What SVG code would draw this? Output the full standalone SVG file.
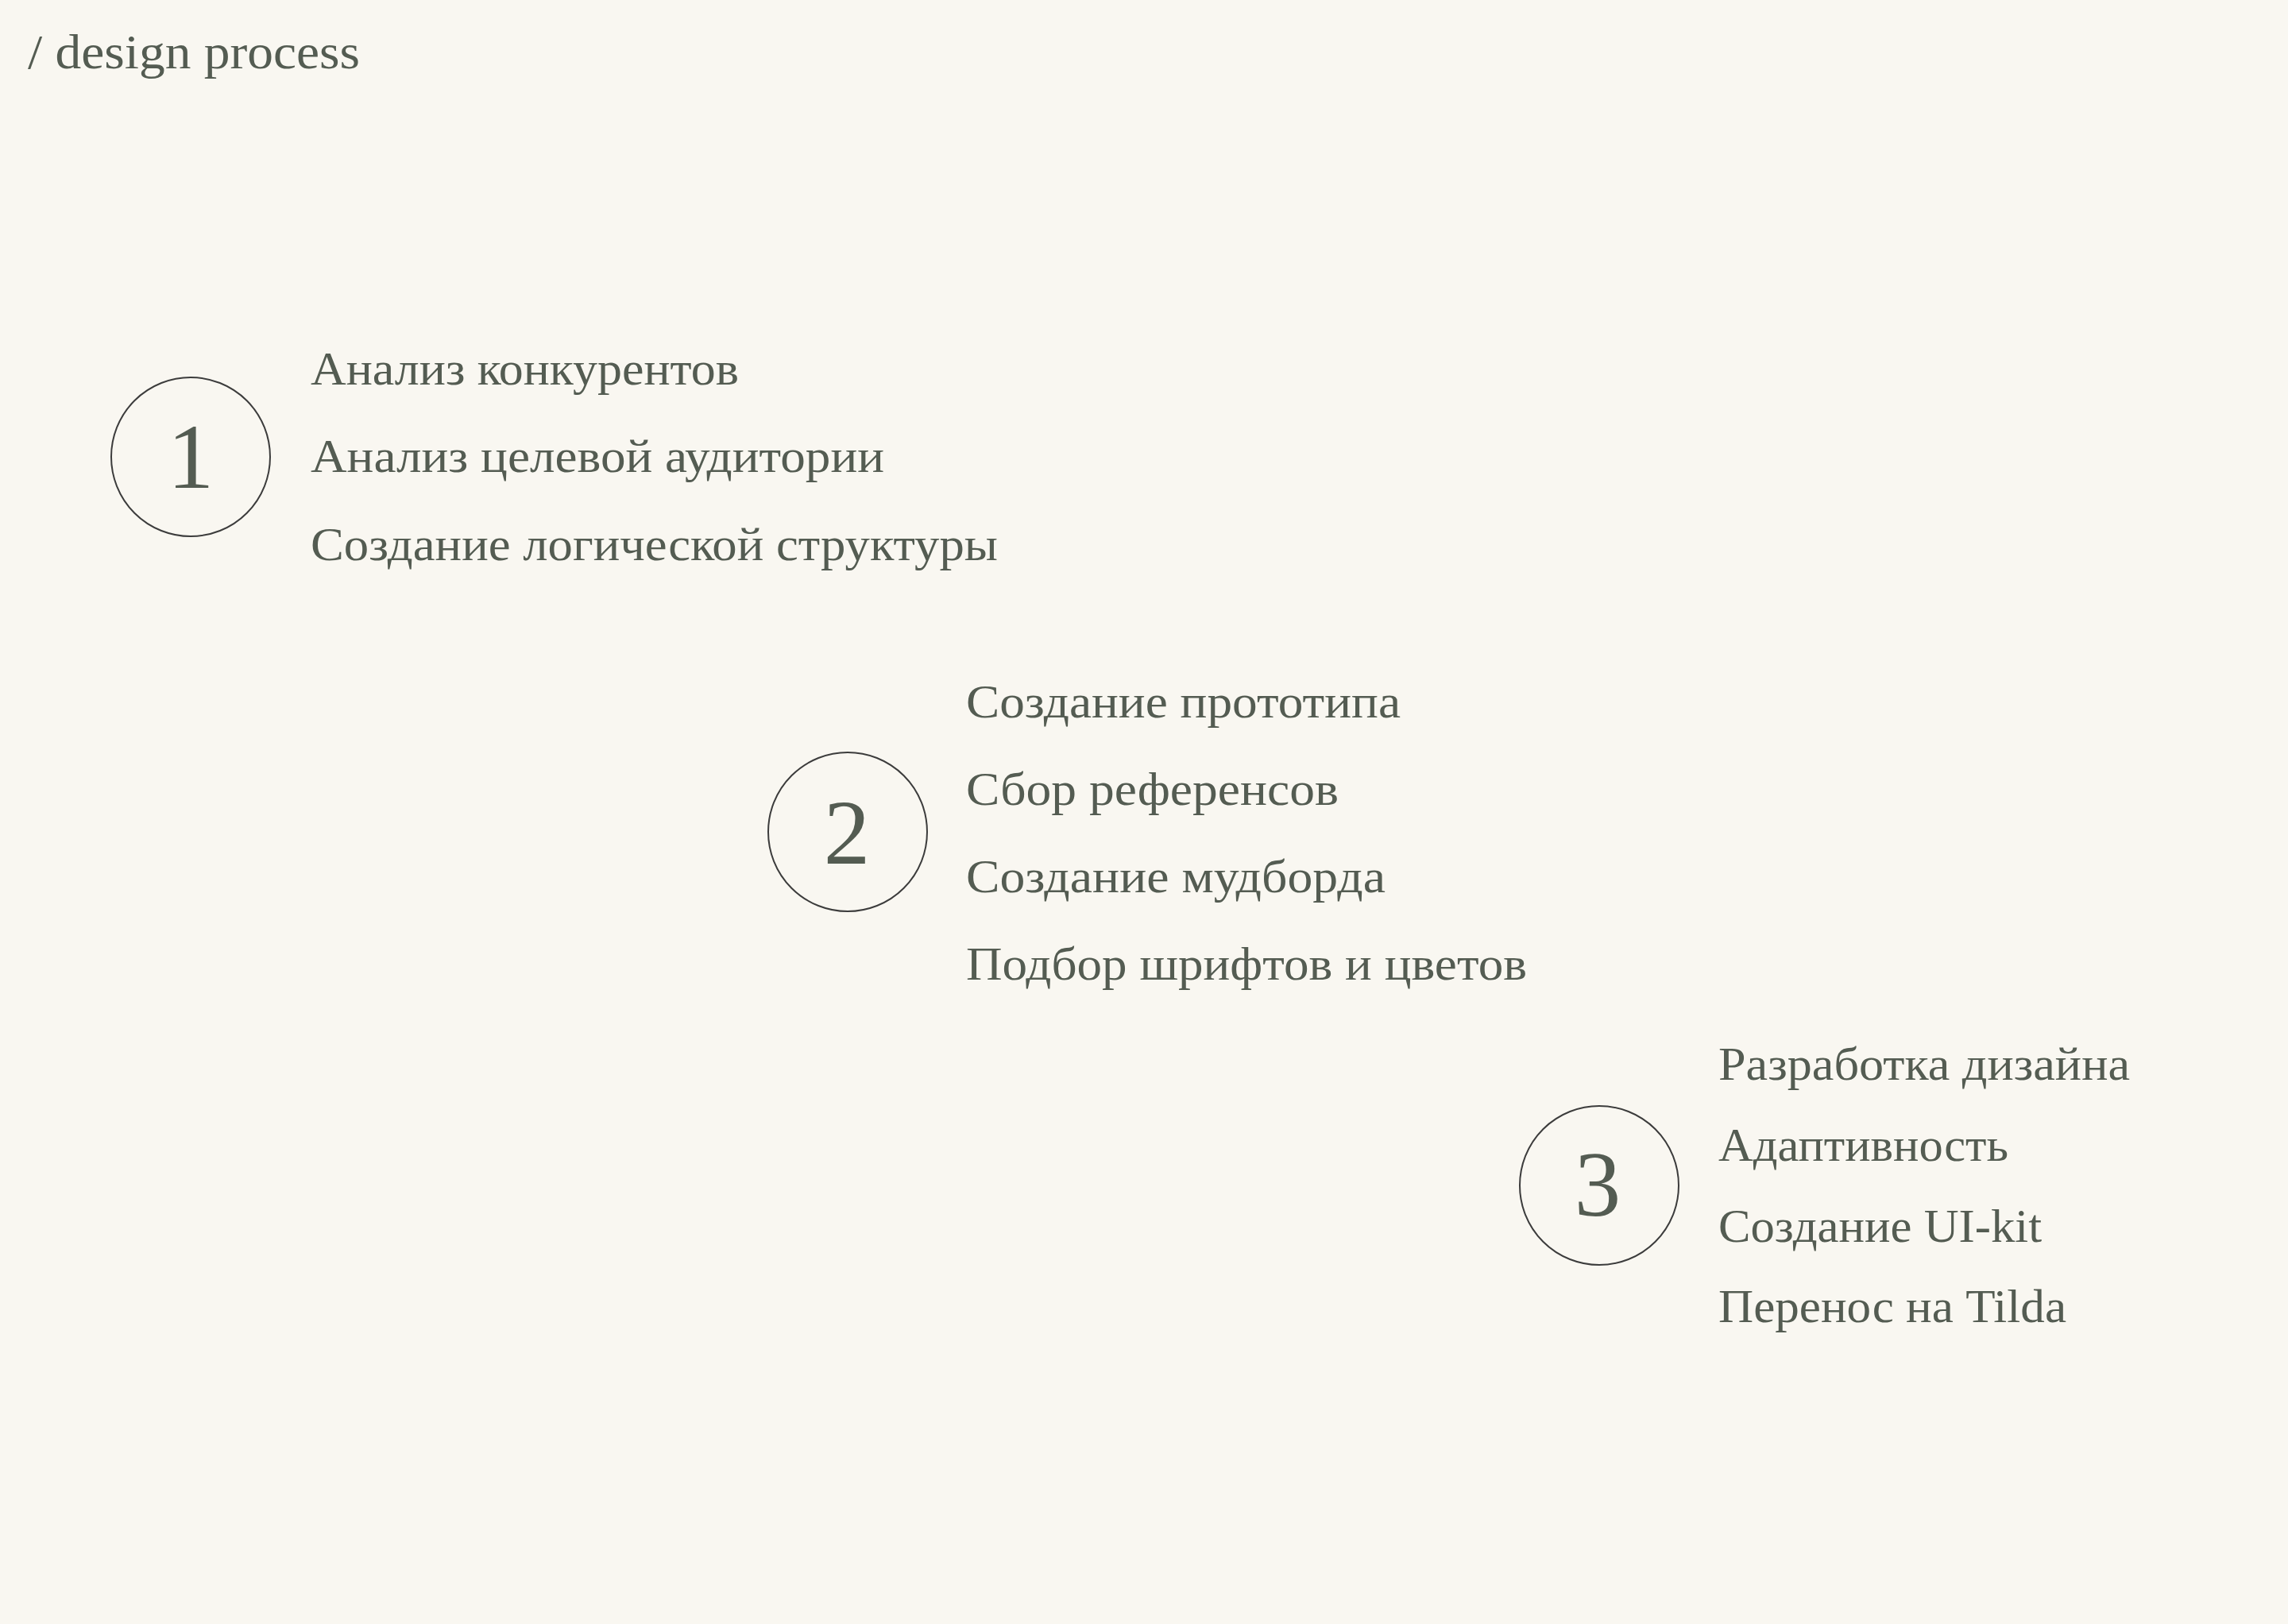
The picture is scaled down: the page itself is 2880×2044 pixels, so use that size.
<svg xmlns="http://www.w3.org/2000/svg" width="2880" height="2044" viewBox="0 0 2880 2044">
<style>
.bg{fill:#f9f7f1}
.t{font-family:"Liberation Serif","DejaVu Serif",serif;fill:#545c52}
.item{font-size:60px}
.num{font-size:117px;text-anchor:middle}
.ring{fill:none;stroke:#3c3c3c;stroke-width:2}
.title{font-size:62px}
</style>
<rect class="bg" x="0" y="0" width="2880" height="2044"/>
<text class="t title" x="35" y="86" textLength="418" lengthAdjust="spacingAndGlyphs">/ design process</text>
<g id="connectors"></g>
<g id="step1">
<circle class="ring" cx="240" cy="575" r="100"/>
<text class="t num" x="240" y="614">1</text>
<text class="t item" x="391" y="484" textLength="539" lengthAdjust="spacingAndGlyphs">Анализ конкурентов</text>
<text class="t item" x="391" y="594" textLength="722" lengthAdjust="spacingAndGlyphs">Анализ целевой аудитории</text>
<text class="t item" x="391" y="705" textLength="865" lengthAdjust="spacingAndGlyphs">Создание логической структуры</text>
</g>
<g id="step2">
<circle class="ring" cx="1067" cy="1047" r="100"/>
<text class="t num" x="1066" y="1087">2</text>
<text class="t item" x="1216" y="903" textLength="547" lengthAdjust="spacingAndGlyphs">Создание прототипа</text>
<text class="t item" x="1216" y="1013" textLength="469" lengthAdjust="spacingAndGlyphs">Сбор референсов</text>
<text class="t item" x="1216" y="1123" textLength="528" lengthAdjust="spacingAndGlyphs">Создание мудборда</text>
<text class="t item" x="1216" y="1233" textLength="706" lengthAdjust="spacingAndGlyphs">Подбор шрифтов и цветов</text>
</g>
<g id="step3">
<circle class="ring" cx="2013" cy="1492" r="100"/>
<text class="t num" x="2011" y="1530">3</text>
<text class="t item" x="2163" y="1359" textLength="518" lengthAdjust="spacingAndGlyphs">Разработка дизайна</text>
<text class="t item" x="2163" y="1461" textLength="365" lengthAdjust="spacingAndGlyphs">Адаптивность</text>
<text class="t item" x="2163" y="1563" textLength="407" lengthAdjust="spacingAndGlyphs">Создание UI-kit</text>
<text class="t item" x="2163" y="1664" textLength="438" lengthAdjust="spacingAndGlyphs">Перенос на Tilda</text>
</g>
</svg>
